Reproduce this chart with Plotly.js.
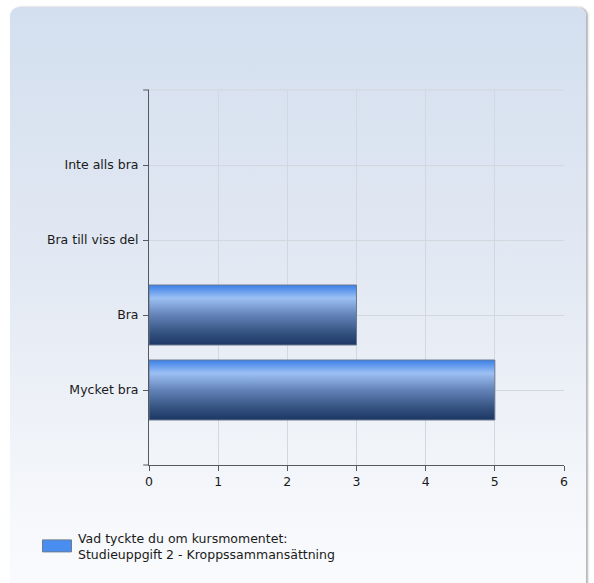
<!DOCTYPE html>
<html>
<head>
<meta charset="utf-8">
<script src="https://cdn.plot.ly/plotly-3.0.1.min.js"></script>
<style>
  html, body { margin: 0; padding: 0; background: #ffffff; width: 594px; height: 583px; overflow: hidden; }
  #panel {
    position: absolute; left: 10px; top: 7px; width: 576px; height: 600px;
    border-radius: 9px;
    background: linear-gradient(to bottom, #d3dfef 0%, #e3e9f3 45%, #f6f8fb 85%, #fafbfd 100%);
    box-shadow: 2px 0 2px rgba(120,120,130,0.55);
  }
  #chart { position: absolute; left: 0; top: 0; width: 594px; height: 583px; }
</style>
</head>
<body>
<div id="panel"></div>
<div id="chart"></div>
<script>
const categories = ["Inte alls bra", "Bra till viss del", "Bra", "Mycket bra"];
const values = [0, 0, 3, 5];
const seriesName = "Vad tyckte du om kursmomentet:<br>Studieuppgift 2 - Kroppssammansättning";
const xTicks = [0, 1, 2, 3, 4, 5, 6];

const font = "DejaVu Sans, Verdana, sans-serif";
const fsize = 12.5;

const trace = {
  type: "bar",
  orientation: "h",
  y: categories,
  x: values,
  name: seriesName,
  width: 0.8,
  marker: { color: "#4a8df0", line: { color: "#6c7a90", width: 1 } },
  showlegend: true,
  hoverinfo: "none"
};

const layout = {
  width: 594, height: 583,
  paper_bgcolor: "rgba(0,0,0,0)",
  plot_bgcolor: "rgba(0,0,0,0)",
  margin: { l: 149, r: 30, t: 90, b: 118 },
  font: { family: font, size: fsize, color: "#1a1a1a" },
  xaxis: {
    range: [0, 6], tickvals: xTicks, ticktext: xTicks.map(String),
    showgrid: true, gridcolor: "#d3d7de", gridwidth: 1,
    showline: true, linecolor: "#555a60", linewidth: 1,
    ticks: "outside", ticklen: 5, tickcolor: "#555a60",
    zeroline: false, fixedrange: true,
    tickfont: { family: font, size: fsize, color: "#1a1a1a" }
  },
  yaxis: {
    type: "category", categoryorder: "array", categoryarray: categories,
    range: [4, -1],
    showgrid: true, gridcolor: "#d3d7de", gridwidth: 1,
    showline: true, linecolor: "#555a60", linewidth: 1,
    ticks: "outside", ticklen: 5, tickcolor: "#555a60",
    zeroline: false, fixedrange: true,
    ticklabelstandoff: 2,
    tickfont: { family: font, size: fsize, color: "#1a1a1a" }
  },
  shapes: [
    { type: "line", xref: "paper", yref: "paper", x0: 0, x1: 1, y0: 1, y1: 1,
      line: { color: "#d3d7de", width: 1 }, layer: "below" },
    { type: "line", xref: "paper", yref: "paper", x0: -0.014, x1: 0, y0: 1, y1: 1,
      line: { color: "#555a60", width: 1 } },
    { type: "line", xref: "paper", yref: "paper", x0: -0.014, x1: 0, y0: 0, y1: 0,
      line: { color: "#555a60", width: 1 } }
  ],
  legend: {
    orientation: "v", x: -0.2747, xanchor: "left", y: -0.155, yanchor: "top",
    bgcolor: "rgba(0,0,0,0)", borderwidth: 0,
    font: { family: font, size: fsize, color: "#1a1a1a" },
    itemwidth: 33, itemclick: false, itemdoubleclick: false
  },
  showlegend: true,
  bargap: 0.2
};

Plotly.newPlot("chart", [trace], layout, { staticPlot: true, displayModeBar: false }).then(function (gd) {
  const svg = gd.querySelector("svg.main-svg");
  const NS = "http://www.w3.org/2000/svg";
  let defs = svg.querySelector("defs");
  if (!defs) { defs = document.createElementNS(NS, "defs"); svg.insertBefore(defs, svg.firstChild); }
  const grad = document.createElementNS(NS, "linearGradient");
  grad.setAttribute("id", "barGrad");
  grad.setAttribute("x1", "0"); grad.setAttribute("y1", "0");
  grad.setAttribute("x2", "0"); grad.setAttribute("y2", "1");
  [["0", "#3b7fe8"], ["0.22", "#9cc0f3"], ["0.5", "#6383b8"], ["0.8", "#34527f"], ["1", "#1c3664"]].forEach(function (s) {
    const st = document.createElementNS(NS, "stop");
    st.setAttribute("offset", s[0]); st.setAttribute("stop-color", s[1]);
    grad.appendChild(st);
  });
  defs.appendChild(grad);
  gd.querySelectorAll(".barlayer .point path").forEach(function (p) {
    const bb = p.getBBox();
    if (bb.width < 1) { p.style.display = "none"; return; }
    p.style.fill = "url(#barGrad)";
  });
  // widen legend swatch
  gd.querySelectorAll(".legend .legendpoints path").forEach(function (p) {
    p.setAttribute("d", "M15,6H-14V-6H15Z");
  });
});
</script>
</body>
</html>
